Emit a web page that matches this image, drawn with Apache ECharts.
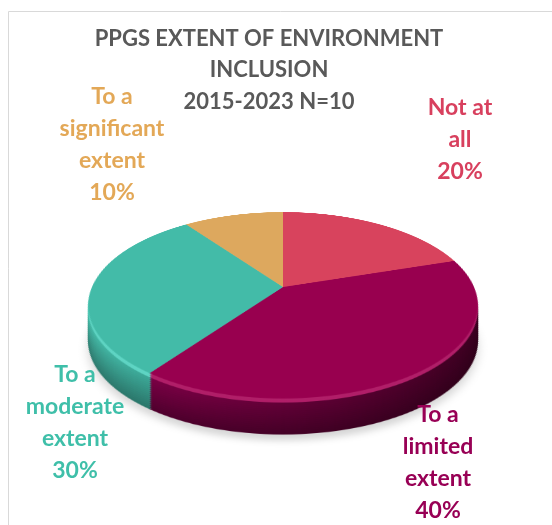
<!DOCTYPE html>
<html><head><meta charset="utf-8">
<script src="https://cdn.jsdelivr.net/npm/echarts@6/dist/echarts.min.js"></script>
<style>
html,body{margin:0;padding:0;background:#fff;}
#stage{position:relative;width:552px;height:525px;overflow:hidden;background:#fff;}
.layer{position:absolute;width:420px;height:420px;transform-origin:50% 50%;}
#overlay{position:absolute;left:0;top:0;width:552px;height:525px;}
</style></head>
<body><div id="stage"></div>
<script>
// ---- data ----
const categories = ['Not at\nall', 'To a\nlimited\nextent', 'To a\nmoderate\nextent', 'To a\nsignificant\nextent'];
const values = [2, 4, 3, 1];
const titleLines = ['PPGS EXTENT OF ENVIRONMENT', 'INCLUSION', '2015-2023 N=10'];

// ---- styles ----
const topColors   = ['#D8435D', '#98004F', '#43BBA8', '#DDA85E'];
const rimColors   = ['#E2607A', '#B01E68', '#5ED4C3', '#E8BC80'];
const sideLeft    = ['#B0364C', '#7C0046', '#46BEAB', '#B88448'];
const sideRight   = ['#7A1F30', '#3A001F', '#2F8C7E', '#8A6030'];
const labelColors = ['#D8405E', '#980055', '#3FBFA9', '#E3A857'];
const labelPos = [[460, 91], [438, 398], [75, 358], [112, 80]];
const FONT = 'Lato';

const stage = document.getElementById('stage');
const R = 191, CX = 282.7, CY = 287.3, PERSP = 860, TILT = 62, DEPTH = 36;

function mix(a, b, t) {
  const pa = [1,3,5].map(i => parseInt(a.substr(i,2),16));
  const pb = [1,3,5].map(i => parseInt(b.substr(i,2),16));
  return '#' + pa.map((v,j) => Math.round(v + (pb[j]-v)*t).toString(16).padStart(2,'0')).join('');
}

function makeLayer(k, colorFn, extraStyle) {
  const d = document.createElement('div');
  d.className = 'layer';
  d.style.left = (CX - 210) + 'px';
  d.style.top = (CY - 210) + 'px';
  d.style.transform = `translateY(${k}px) perspective(${PERSP}px) rotateX(${TILT}deg)`;
  if (extraStyle) Object.assign(d.style, extraStyle);
  stage.appendChild(d);
  const ch = echarts.init(d, null, {renderer: 'canvas', devicePixelRatio: 2});
  ch.setOption({
    animation: false,
    series: [{
      type: 'pie', radius: R, center: ['50%', '50%'], startAngle: 90, clockwise: true,
      silent: true, label: {show: false}, labelLine: {show: false},
      emphasis: {disabled: true},
      data: values.map((v, i) => ({name: categories[i], value: v, itemStyle: {color: colorFn(i), borderWidth: 0}}))
    }]
  });
}

// soft shadow below
makeLayer(DEPTH + 6, () => 'rgba(0,0,0,0.16)', {filter: 'blur(5px)'});
// side layers (deep to shallow)
for (let k = DEPTH; k >= 2; k -= 2) {
  makeLayer(k, (i) => {
    if (k <= 4) return rimColors[i];
    const t = (k - 4) / (DEPTH - 4) * 0.35;
    return new echarts.graphic.LinearGradient(0, 0, 1, 0, [
      {offset: 0, color: mix(sideLeft[i], '#000000', t)},
      {offset: 1, color: mix(sideRight[i], '#000000', t * 0.6)}
    ]);
  });
}
// top face
makeLayer(0, (i) => topColors[i]);

// overlay: title, labels, frame
const ov = document.createElement('div');
ov.id = 'overlay';
stage.appendChild(ov);
const oc = echarts.init(ov);
const total = values.reduce((a, b) => a + b, 0);
oc.setOption({
  animation: false,
  title: {
    text: titleLines.join('\n'), left: 264, top: 18, textAlign: 'center',
    textStyle: {fontFamily: FONT, fontWeight: 'bold', fontSize: 22, color: '#595959', lineHeight: 31.5}
  },
  graphic: [
    {type: 'rect', shape: {x: 8.5, y: 11.5, width: 700, height: 700}, style: {fill: 'none', stroke: '#D9D9D9', lineWidth: 1}, silent: true}
  ].concat(values.map((v, i) => ({
    type: 'text', x: labelPos[i][0], y: labelPos[i][1], silent: true,
    style: {
      text: categories[i] + '\n' + Math.round(v / total * 100) + '%',
      align: 'center', verticalAlign: 'top', fill: labelColors[i],
      font: `bold 23px ${FONT}`, lineHeight: 32.3
    }
  })))
});
</script></body></html>
